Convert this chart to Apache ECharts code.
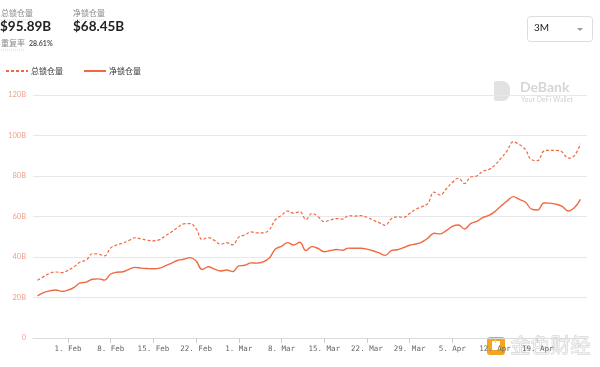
<!DOCTYPE html>
<html>
<head>
<meta charset="utf-8">
<script src="https://cdn.jsdelivr.net/npm/echarts@6/dist/echarts.min.js"></script>
<style>html,body{margin:0;padding:0;background:#fff}#c{width:600px;height:367px}</style>
</head>
<body>
<div id="c"></div>
<script>
// Daily dates (Jan 27 .. Apr 26)
const startDate = '2021-01-27';
const dayCount = 90;
// Total value locked (B USD)
const totalLocked = [
28.5,30.3,31.9,32.6,32.3,33.4,35.2,37.5,38.5,41.6,
41.4,40.6,44.5,46.0,46.9,48.2,49.5,48.9,48.3,48.0,
48.6,50.5,52.5,54.6,56.4,56.5,54.0,48.6,49.6,48.2,
46.3,47.1,46.0,49.8,50.9,52.4,51.9,51.9,53.5,58.4,
60.6,62.7,61.6,62.4,58.5,61.5,59.9,57.5,58.3,59.0,
58.7,60.4,60.2,60.4,59.6,58.2,57.0,55.6,58.9,59.8,
59.6,61.5,63.6,64.8,66.5,72.0,70.6,73.6,76.8,78.9,
76.3,79.5,80.0,82.4,83.2,85.5,88.8,92.5,96.9,95.5,
93.0,88.0,87.6,92.3,92.7,92.7,91.8,88.8,90.0,95.89
];
// Net value locked (B USD)
const netLocked = [
20.8,22.4,23.3,23.7,23.0,23.6,25.0,27.2,27.6,29.0,
29.2,28.6,31.6,32.5,32.7,33.9,34.9,34.5,34.3,34.2,
34.5,35.7,37.0,38.4,38.9,39.7,38.0,33.8,35.2,34.0,
33.1,33.6,32.8,35.6,35.9,37.1,37.0,37.6,39.5,43.9,
45.3,47.1,45.9,47.3,43.2,45.1,44.2,42.6,43.2,43.7,
43.3,44.4,44.3,44.3,43.9,43.1,42.0,40.8,43.1,43.6,
44.6,45.8,46.4,47.4,49.3,51.7,51.4,53.0,55.1,55.8,
53.8,56.5,57.6,59.5,60.5,62.5,65.2,67.7,69.8,68.4,
67.0,63.6,63.2,66.7,66.6,66.1,65.0,62.7,64.3,68.45
];
// X tick labels and their day index from startDate
const tickLabels = ['1. Feb','8. Feb','15. Feb','22. Feb','1. Mar','8. Mar','15. Mar','22. Mar','29. Mar','5. Apr','12. Apr','19. Apr'];
const tickIndex = [5,12,19,26,33,40,47,54,61,68,75,82];
const yTicks = [0,20,40,60,80,100,120];

const seriesNames = ['总锁仓量','净锁仓量'];
const lineColor = '#ef6a43';

const totalData = totalLocked.map((v,i)=>[i,v]);
const netData = netLocked.map((v,i)=>[i,v]);

const chart = echarts.init(document.getElementById('c'), null, {renderer:'canvas'});
const sans = 'Lato, "Noto Sans CJK SC", sans-serif';
const cjk = '"Noto Sans CJK SC", sans-serif';
chart.setOption({
  animation:false,
  grid:{left:33,right:13,top:95,bottom:29},
  legend:{
    left:0, top:62, itemWidth:22, itemHeight:8, itemGap:20,
    itemStyle:{opacity:0},
    textStyle:{fontSize:8,color:'#333',fontFamily:cjk,padding:[0,0,0,-2]},
    data:seriesNames
  },
  xAxis:{
    type:'value', min:-0.74, max:90.08,
    splitLine:{show:false},
    axisLine:{show:true,lineStyle:{color:'#dcdcdc'}},
    axisTick:{show:true,customValues:tickIndex,length:5,lineStyle:{color:'#ccc'}},
    axisLabel:{customValues:tickIndex,fontSize:7.5,color:'#666',margin:7,
      fontFamily:'"DejaVu Sans Mono", monospace',
      formatter:(v)=>{const k=tickIndex.indexOf(Math.round(v));return k>=0?tickLabels[k]:'';}}
  },
  yAxis:{
    type:'value', min:0, max:120, interval:20,
    axisLine:{show:false}, axisTick:{show:false},
    splitLine:{lineStyle:{color:'#e8e8e8'}},
    axisLabel:{fontSize:7.5,color:'#eea08e',margin:7,fontFamily:sans,
      formatter:(v)=>v===0?'0':v+'B'}
  },
  series:[
    {name:seriesNames[0],type:'line',data:totalData,smooth:0.4,symbol:'none',
      lineStyle:{color:lineColor,width:1.2,type:[3,2]},itemStyle:{color:lineColor}},
    {name:seriesNames[1],type:'line',data:netData,smooth:0.4,symbol:'none',
      lineStyle:{color:lineColor,width:1.4},itemStyle:{color:lineColor}}
  ],
  graphic:[
    {type:'text',left:1,top:9,style:{text:'总锁仓量',fontSize:8,fill:'#888',fontFamily:cjk}},
    {type:'line',shape:{x1:1,y1:20,x2:33,y2:20},style:{stroke:'#bbb',lineWidth:0.6,lineDash:[1,1]}},
    {type:'text',left:0,top:20,style:{text:'$95.89B',fontSize:13.5,fontWeight:'bold',fill:'#222',fontFamily:sans}},
    {type:'text',left:73,top:9,style:{text:'净锁仓量',fontSize:8,fill:'#888',fontFamily:cjk}},
    {type:'line',shape:{x1:73,y1:20,x2:105,y2:20},style:{stroke:'#bbb',lineWidth:0.6,lineDash:[1,1]}},
    {type:'text',left:73,top:20,style:{text:'$68.45B',fontSize:13.5,fontWeight:'bold',fill:'#222',fontFamily:sans}},
    {type:'text',left:1,top:39,style:{text:'重复率',fontSize:8,fill:'#888',fontFamily:cjk}},
    {type:'line',shape:{x1:1,y1:50,x2:25,y2:50},style:{stroke:'#bbb',lineWidth:0.6,lineDash:[1,1]}},
    {type:'text',left:29,top:40,style:{text:'28.61%',fontSize:7,fontWeight:'bold',fill:'#555',fontFamily:sans}},
    {type:'rect',shape:{x:527.5,y:16.5,width:65,height:25,r:3},style:{fill:'#fff',stroke:'#dddddd',lineWidth:1}},
    {type:'text',left:534,top:23,style:{text:'3M',fontSize:10,fill:'#222',fontFamily:sans}},
    {type:'polygon',shape:{points:[[577,28],[583,28],[580,31]]},style:{fill:'#999'}},
    // DeBank watermark
    {type:'rect',shape:{x:494,y:81,width:16,height:20,r:[2,8,8,2]},style:{fill:'#e2e2e2'}},
    {type:'text',left:520,top:80,style:{text:'DeBank',fontSize:14,fontWeight:'bold',fill:'#d6d6d6',fontFamily:sans}},
    {type:'text',left:521,top:96,style:{text:'Your DeFi Wallet',fontSize:7,fill:'#d2d2d2',fontFamily:sans}},
    // Jinse watermark
    {type:'rect',shape:{x:487,y:337,width:18,height:18,r:3},style:{fill:'#f3a51f'}},
    {type:'rect',shape:{x:492,y:341,width:8,height:9,r:1},style:{fill:'#fff'}},
    {type:'text',left:510,top:335,style:{text:'金色财经',fontSize:20,fill:'#f2f2f2',stroke:'#c8c8c8',lineWidth:0.8,fontFamily:cjk}}
  ]
});
</script>
</body>
</html>
